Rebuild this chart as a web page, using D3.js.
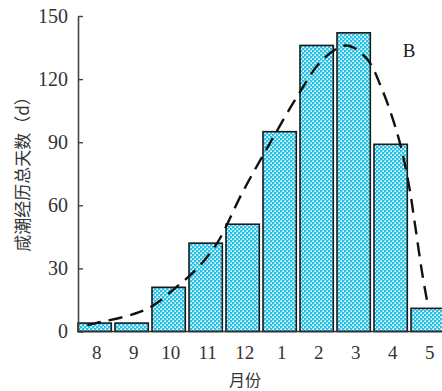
<!DOCTYPE html>
<html>
<head>
<meta charset="utf-8">
<script src="https://cdn.jsdelivr.net/npm/d3@7"></script>
<style>
  body { margin: 0; background: #fff; }
  svg { display: block; }
</style>
</head>
<body>
<div id="chart"></div>
<script>
// months on the x axis
var months = ["8", "9", "10", "11", "12", "1", "2", "3", "4", "5"];
// days with salt intrusion per month
var days = [4, 4, 21, 42, 51, 95, 136, 142, 89, 11];
// dashed fitted curve (month index, days)
var curveIdx = [-0.2, 0.04, 1.0, 1.55, 2.2, 2.77, 3.31, 3.99, 4.72, 5.45, 6.15, 6.8, 7.34, 7.77, 8.23, 8.5, 8.64, 8.85, 8.99];
var curveVal = [3, 4, 8, 12, 21, 30, 42, 66, 89, 111, 129, 136, 130, 115, 91, 69, 53, 28, 14];
var yTicks = [0, 30, 60, 90, 120, 150];

var width = 442, height = 391;
var marginLeft = 78, baseY = 331.5, topY = 16;
var step = 37;

var svg = d3.select("#chart").append("svg")
    .attr("width", width)
    .attr("height", height);

// dotted cyan fill
var defs = svg.append("defs");
var pat = defs.append("pattern")
    .attr("id", "dots")
    .attr("patternUnits", "userSpaceOnUse")
    .attr("width", 4)
    .attr("height", 4);
pat.append("rect").attr("width", 4).attr("height", 4).attr("fill", "#26c3e6");
pat.append("rect").attr("x", 0.4).attr("y", 0.4).attr("width", 1.6).attr("height", 1.6).attr("fill", "#fff");
pat.append("rect").attr("x", 2.4).attr("y", 2.4).attr("width", 1.6).attr("height", 1.6).attr("fill", "#fff");

var x = d3.scaleBand()
    .domain(months)
    .range([marginLeft, marginLeft + step * months.length - 3.7])
    .paddingInner(0.1)
    .paddingOuter(0);

var y = d3.scaleLinear()
    .domain([0, 150])
    .range([baseY, topY]);

var xi = d3.scaleLinear()
    .domain([0, months.length - 1])
    .range([x(months[0]) + x.bandwidth() / 2, x(months[months.length - 1]) + x.bandwidth() / 2]);

var serif = "'Liberation Serif', 'DejaVu Serif', serif";

// bars
svg.selectAll(".bar")
    .data(days)
    .enter().append("rect")
    .attr("class", "bar")
    .attr("x", function(d, i) { return x(months[i]); })
    .attr("y", function(d) { return y(d); })
    .attr("width", x.bandwidth())
    .attr("height", function(d) { return baseY - y(d); })
    .attr("fill", "url(#dots)")
    .attr("stroke", "#1a1a1a")
    .attr("stroke-width", 1.6);

// dashed curve
var pts = curveIdx.map(function(v, i) { return [v, curveVal[i]]; });
var line = d3.line()
    .x(function(d) { return xi(d[0]); })
    .y(function(d) { return y(d[1]); })
    .curve(d3.curveCatmullRom.alpha(0.5));

svg.append("path")
    .datum(pts)
    .attr("d", line)
    .attr("fill", "none")
    .attr("stroke", "#111")
    .attr("stroke-width", 2.4)
    .attr("stroke-dasharray", "14,8");

// y axis, ticks pointing inward
var yAxis = svg.append("g")
    .attr("transform", "translate(" + marginLeft + ",0)")
    .call(d3.axisRight(y).tickValues(yTicks).tickSize(5).tickSizeOuter(0).tickFormat(""));
yAxis.select(".domain").attr("stroke", "#444").attr("stroke-width", 1.6);
yAxis.selectAll(".tick line").attr("stroke", "#444").attr("stroke-width", 1.4);

svg.selectAll(".ylab")
    .data(yTicks)
    .enter().append("text")
    .attr("class", "ylab")
    .attr("x", marginLeft - 10)
    .attr("y", function(d) { return y(d) + 6.5; })
    .attr("text-anchor", "end")
    .attr("font-family", serif)
    .attr("font-size", 20)
    .attr("fill", "#333")
    .text(function(d) { return d; });

// x axis line
svg.append("line")
    .attr("x1", marginLeft).attr("x2", width)
    .attr("y1", baseY).attr("y2", baseY)
    .attr("stroke", "#333")
    .attr("stroke-width", 1.4);

svg.selectAll(".xlab")
    .data(months)
    .enter().append("text")
    .attr("class", "xlab")
    .attr("x", function(d) { return x(d) + x.bandwidth() / 2 + 2; })
    .attr("y", 359)
    .attr("text-anchor", "middle")
    .attr("font-family", serif)
    .attr("font-size", 19)
    .attr("fill", "#333")
    .text(function(d) { return d; });

// axis titles
svg.append("text")
    .attr("x", 245)
    .attr("y", 386)
    .attr("text-anchor", "middle")
    .attr("font-family", "'Noto Sans CJK SC', sans-serif")
    .attr("font-size", 16)
    .attr("fill", "#333")
    .text("月份");

svg.append("text")
    .attr("transform", "translate(29,170) rotate(-90)")
    .attr("text-anchor", "middle")
    .attr("font-family", "'Noto Sans CJK SC', sans-serif")
    .attr("font-size", 17)
    .attr("fill", "#333")
    .text("咸潮经历总天数（d）");

svg.append("text")
    .attr("x", 409)
    .attr("y", 57)
    .attr("text-anchor", "middle")
    .attr("font-family", serif)
    .attr("font-size", 19)
    .attr("fill", "#222")
    .text("B");
</script>
</body>
</html>
